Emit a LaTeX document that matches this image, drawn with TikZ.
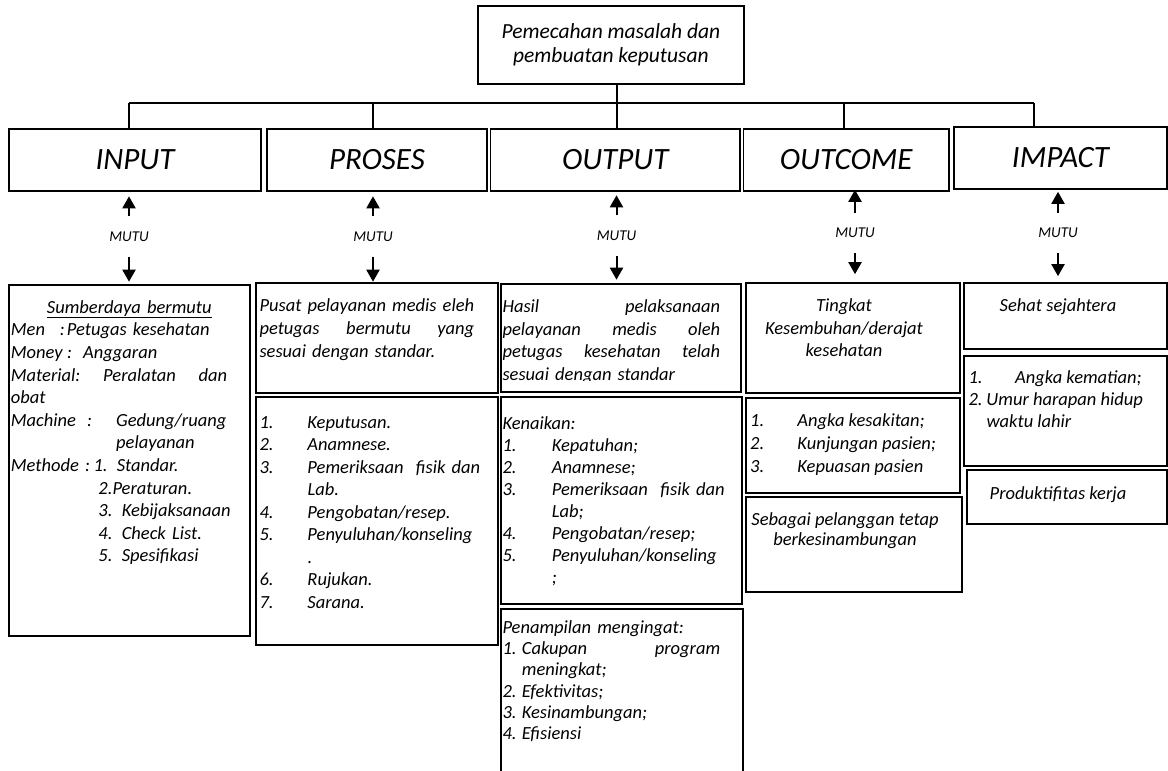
\documentclass[tikz,border=0pt]{standalone}
\usepackage{fontspec}
\setmainfont{Carlito}
\usetikzlibrary{arrows.meta}

\newcommand{\nr}[2][48pt]{\makebox[#1][l]{#2}}

\begin{document}
\begin{tikzpicture}[x=1pt,y=-1pt,
  box/.style={draw,line width=1.8pt,anchor=north west,inner sep=0pt},
  head/.style={box,minimum height=62pt,font=\fontsize{31}{36}\selectfont\itshape},
  txt/.style={anchor=north west,inner sep=0pt,align=left,font=\fontsize{18.5}{22.6}\selectfont\itshape},
  txtc/.style={txt,anchor=north,align=center},
  mutu/.style={inner sep=0pt,minimum height=40pt,font=\fontsize{15}{18}\selectfont\itshape},
  link/.style={line width=1.6pt},
  arr/.style={line width=2pt,-{Triangle[length=12pt,width=13pt]}}]

\path[use as bounding box,fill=white] (0,0) rectangle (1168,771);

\node[box,minimum width=266pt,minimum height=78pt,align=center,
  font=\fontsize{21.5}{24}\selectfont\itshape] (top) at (477,5)
  {Pemecahan masalah dan\\pembuatan keputusan};

\node[head,minimum width=251.7pt] (inhd) at (8.3,128) {INPUT};
\node[head,minimum width=220pt] (prhd) at (266,128) {PROSES};
\node[head,minimum width=249.6pt] (ouhd) at (489.5,128) {OUTPUT};
\node[head,minimum width=205.4pt] (ochd) at (742.6,128) {OUTCOME};
\node[head,minimum width=213.5pt] (imhd) at (952.8,126) {IMPACT};

\coordinate (b1) at (129,103);
\coordinate (b2) at (373,103);
\coordinate (b3) at (617,103);
\coordinate (b4) at (844,103);
\coordinate (b5) at (1034,103);

\draw[link] (b1) -- (b5);
\draw[link] (b3 |- top.south) -- (b3);
\foreach \b/\h in {b1/inhd,b2/prhd,b3/ouhd,b4/ochd,b5/imhd}
  \draw[link] (\b) -- (\b |- \h.north);

\foreach \x/\y/\u/\d [count=\i] in {129/236.5/20/25,373/236.5/20/25,616.5/235.5/20/24,855/233/23/21,1058/233/21/23}{
  \node[mutu] (m\i) at (\x,\y) {MUTU};
  \draw[arr] (m\i.north) -- ++(0,-\u);
  \draw[arr] (m\i.south) -- ++(0,\d);
}

% input
\node[box,minimum width=241pt,minimum height=350.7pt] (inA) at (8.3,284.3) {};
\node[txt,text width=216.3pt] (inAt) at (10.7,297.2) {\strut\hspace*{36pt}\underline{Sumberdaya bermutu}\\
\nr[56pt]{Men\hfill:\hspace{2pt}}Petugas kesehatan\\
\nr[72.3pt]{Money\hfill:\hspace{11pt}}Anggaran\\
Material:\hfill Peralatan\hfill dan\\
obat\\
\nr[105.3pt]{Machine\hspace{11pt}:}Gedung/ruang\\
\hspace*{105.3pt}pelayanan\\
\nr[82.6pt]{Methode :}\mbox{1. Standar.}\\
\hspace*{87.6pt}\mbox{2.Peraturan.}\\
\hspace*{87.6pt}\mbox{3. Kebijaksanaan}\\
\hspace*{87.6pt}\mbox{4. Check List.}\\
\hspace*{87.6pt}\mbox{5. Spesifikasi}};

% proses
\node[box,minimum width=241.7pt,minimum height=110pt] (prA) at (255,281.7) {};
\node[txt,text width=214.7pt] (prAt) at (259.3,295.9) {\strut Pusat\hfill pelayanan\hfill medis\hfill eleh\\
petugas\hfill bermutu\hfill yang\\
sesuai dengan standar.};
\node[box,minimum width=241.7pt,minimum height=248.3pt] (prB) at (255,396) {};
\node[txt,text width=214.7pt,font=\fontsize{18.5}{22.5}\selectfont\itshape] (prBt) at (259.3,412.5) {\strut\nr{1.}Keputusan.\\
\nr{2.}Anamnese.\\
\nr{3.}\mbox{Pemeriksaan\ \ fisik dan}\\
\nr{}Lab.\\
\nr{4.}Pengobatan/resep.\\
\nr{5.}\mbox{Penyuluhan/konseling}\\
\nr{}.\\
\nr{6.}Rujukan.\\
\nr{7.}Sarana.};

% output
\node[box,minimum width=240pt,minimum height=108.3pt] (ouA) at (500,282.7) {};
\begin{scope}
\clip (500,282.7) rectangle (740,380.5);
\node[txt,text width=217.7pt] (ouAt) at (502.3,296.5) {\strut Hasil\hfill pelaksanaan\\
pelayanan\hfill medis\hfill oleh\\
petugas\hfill kesehatan\hfill telah\\
sesuai dengan standar};
\end{scope}
\node[box,minimum width=240.7pt,minimum height=207.3pt] (ouB) at (500,396) {};
\node[txt,text width=217.7pt,font=\fontsize{18.5}{22}\selectfont\itshape] (ouBt) at (502.3,414.2) {\strut Kenaikan:\\
\nr[49.4pt]{1.}Kepatuhan;\\
\nr[49.4pt]{2.}Anamnese;\\
\nr[49.4pt]{3.}\mbox{Pemeriksaan\ \ fisik dan}\\
\nr[49.4pt]{}Lab;\\
\nr[49.4pt]{4.}Pengobatan/resep;\\
\nr[49.4pt]{5.}\mbox{Penyuluhan/konseling}\\
\nr[49.4pt]{};};
\node[box,minimum width=241.7pt,minimum height=170pt] (ouC) at (500,608.3) {};
\node[txt,text width=217.7pt,font=\fontsize{18.5}{21.2}\selectfont\itshape] (ouCt) at (502.3,618.5) {\strut Penampilan mengingat:\\
\nr[19.4pt]{1.}Cakupan\hfill program\\
\hspace*{19.4pt}meningkat;\\
\nr[19.4pt]{2.}Efektivitas;\\
\nr[19.4pt]{3.}Kesinambungan;\\
\nr[19.4pt]{4.}Efisiensi};

% outcome
\node[box,minimum width=214pt,minimum height=110pt] (ocA) at (745,281.7) {};
\node[txtc,font=\fontsize{18.5}{22.5}\selectfont\itshape] (ocAt) at (844,295.9) {\strut Tingkat\\
Kesembuhan/derajat\\
kesehatan};
\node[box,minimum width=214pt,minimum height=95pt] (ocB) at (745,396.7) {};
\node[txt,font=\fontsize{18.5}{23}\selectfont\itshape] (ocBt) at (750,409.9) {\strut\nr[47.3pt]{1.}Angka kesakitan;\\
\nr[47.3pt]{2.}Kunjungan pasien;\\
\nr[47.3pt]{3.}Kepuasan pasien};
\node[box,minimum width=215.7pt,minimum height=95pt] (ocC) at (745,496) {};
\node[txtc,font=\fontsize{18.5}{20}\selectfont\itshape] (ocCt) at (845,511) {\strut Sebagai pelanggan tetap\\
berkesinambungan};

% impact
\node[box,minimum width=203pt,minimum height=66.6pt] (imA) at (963.3,281.7) {};
\node[txtc] (imAt) at (1058,295.2) {\strut Sehat sejahtera};
\node[box,minimum width=203pt,minimum height=110pt] (imB) at (963.3,355) {};
\node[txt,font=\fontsize{18.5}{22}\selectfont\itshape] (imBt) at (968.3,367.5) {\strut\nr[46.7pt]{1.}Angka kematian;\\
\nr[18pt]{2.}Umur harapan hidup\\
\hspace*{18pt}waktu lahir};
\node[box,minimum width=200.6pt,minimum height=53.4pt] (imC) at (965.7,469.3) {};
\node[txtc] (imCt) at (1058,483.5) {\strut Produktifitas kerja};

\end{tikzpicture}
\end{document}
